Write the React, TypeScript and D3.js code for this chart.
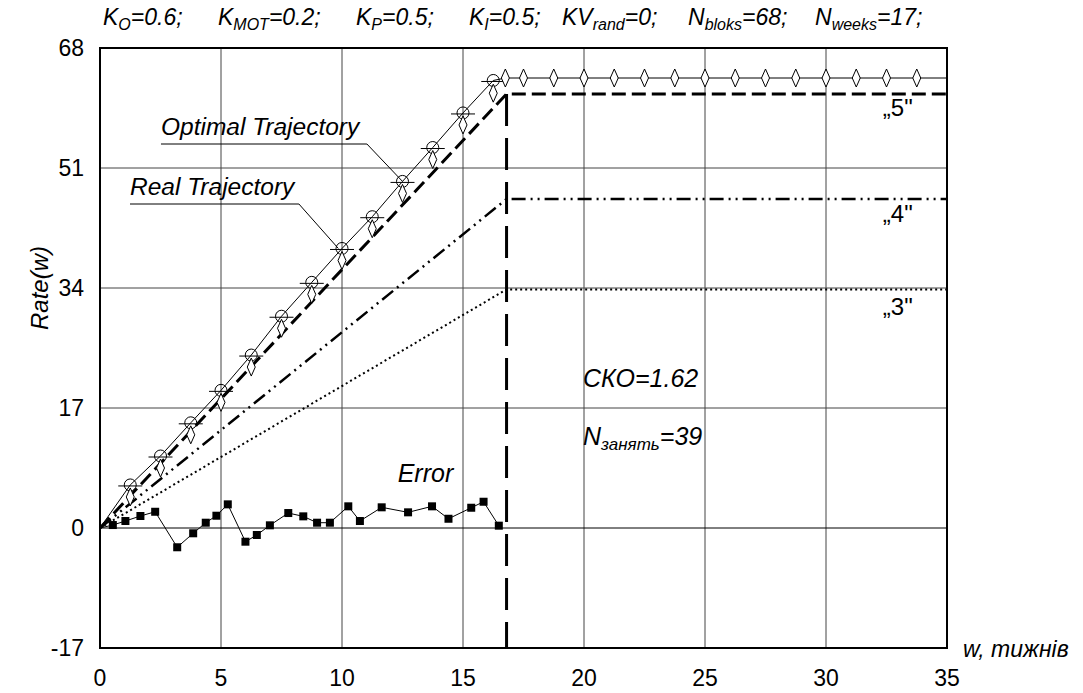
import React from 'react';
import { scaleLinear, line } from 'd3';

// axis ticks
const xTicks = [0, 5, 10, 15, 20, 25, 30, 35];
const yTicks = [-17, 0, 17, 34, 51, 68];

// optimal trajectory (circles) and real trajectory (diamonds) on the ramp
const rampWeeks = [1.25, 2.5, 3.75, 5, 6.25, 7.5, 8.75, 10, 11.25, 12.5, 13.75, 15, 16.25];
const optimalVals = [6.1, 10.2, 14.9, 19.5, 24.5, 30.0, 34.8, 39.6, 44.1, 49.1, 53.9, 58.8, 63.4];
const realVals = [4.4, 8.5, 13.2, 17.8, 22.8, 28.3, 33.1, 37.9, 42.4, 47.4, 52.2, 57.1, 61.6];

// real trajectory after the end of the ramp
const flatWeeks = [16.75, 17.5, 18.75, 20, 21.25, 22.5, 23.75, 25, 26.25, 27.5, 28.75, 30, 31.25, 32.5, 33.75];
const flatLevel = 63.75;

// scenario lines "3", "4", "5"
const scenarioWeeks = [0, 16.8, 35];
const scenario5 = [0, 61.5, 61.5];
const scenario4 = [0, 46.6, 46.6];
const scenario3 = [0, 33.8, 33.8];
const endWeek = 16.8;

// error series
const errorWeeks = [0, 0.53, 1.05, 1.67, 2.28, 3.19, 3.85, 4.37, 4.81, 5.28, 6.01, 6.48, 7.02, 7.78, 8.4, 8.97, 9.5, 10.26, 10.74, 11.64, 12.73, 13.72, 14.4, 15.34, 15.85, 16.48];
const errorVals = [0, 0.42, 0.99, 1.7, 2.3, -2.73, -0.75, 0.75, 1.74, 3.35, -1.94, -0.99, 0.38, 2.12, 1.65, 0.75, 0.75, 3.07, 0.99, 2.93, 2.22, 3.07, 1.31, 2.87, 3.72, 0.33];

const FONT = 'Arial, "Liberation Sans", sans-serif';

type P = [number, number];

export default function App() {
  const width = 1083;
  const height = 693;
  const x = scaleLinear().domain([0, 35]).range([100, 947]);
  const y = scaleLinear().domain([-17, 68]).range([648, 48]);
  const path = line<P>().x((d) => x(d[0])).y((d) => y(d[1]));

  const optimalPts: P[] = [[0, 0], ...rampWeeks.map((w, i) => [w, optimalVals[i]] as P), [flatWeeks[0], flatLevel], [35, flatLevel]];
  const s5: P[] = scenarioWeeks.map((w, i) => [w, scenario5[i]]);
  const s4: P[] = scenarioWeeks.map((w, i) => [w, scenario4[i]]);
  const s3: P[] = scenarioWeeks.map((w, i) => [w, scenario3[i]]);
  const errPts: P[] = errorWeeks.map((w, i) => [w, errorVals[i]]);
  const diamonds: P[] = [...rampWeeks.map((w, i) => [w, realVals[i]] as P), ...flatWeeks.map((w) => [w, flatLevel] as P)];

  const diamond = (cx: number, cy: number) =>
    `M${cx},${cy - 9}L${cx + 4},${cy}L${cx},${cy + 9}L${cx - 4},${cy}Z`;

  const italic = { fontFamily: FONT, fontStyle: 'italic' as const };

  // title segments: x, main text, subscript, rest
  const title: [number, string, string, string][] = [
    [103, 'K', 'O', '=0.6;'],
    [218, 'K', 'MOT', '=0.2;'],
    [356, 'K', 'P', '=0.5;'],
    [469, 'K', 'I', '=0.5;'],
    [562, 'KV', 'rand', '=0;'],
    [688, 'N', 'bloks', '=68;'],
    [815, 'N', 'weeks', '=17;'],
  ];

  return (
    <svg width={width} height={height} style={{ position: 'absolute', left: 0, top: 0, background: '#fff' }}>
      <rect x={0} y={0} width={width} height={height} fill="#fff" />

      {/* grid */}
      {xTicks.slice(1, -1).map((t) => (
        <line key={'gx' + t} x1={x(t)} x2={x(t)} y1={y(68)} y2={y(-17)} stroke="#444" strokeWidth={1} />
      ))}
      {yTicks.slice(1, -1).map((t) => (
        <line key={'gy' + t} x1={x(0)} x2={x(35)} y1={y(t)} y2={y(t)} stroke={t === 0 ? '#000' : '#444'} strokeWidth={1} />
      ))}

      {/* scenario lines */}
      <path d={path(s3) || ''} fill="none" stroke="#000" strokeWidth={2} strokeDasharray="2,3" />
      <path d={path(s4) || ''} fill="none" stroke="#000" strokeWidth={2.5} strokeDasharray="14,5,2,5,2,5" />
      <path d={path(s5) || ''} fill="none" stroke="#000" strokeWidth={3} strokeDasharray="14,6" />
      <line x1={x(endWeek)} x2={x(endWeek)} y1={y(scenario5[1])} y2={y(-17)} stroke="#000" strokeWidth={3} strokeDasharray="32,12" />

      {/* optimal trajectory */}
      <path d={path(optimalPts) || ''} fill="none" stroke="#000" strokeWidth={1} />
      {rampWeeks.map((w, i) => (
        <g key={'c' + i}>
          <circle cx={x(w)} cy={y(optimalVals[i])} r={6} fill="none" stroke="#000" strokeWidth={1} />
          <line x1={x(w) - 12} x2={x(w) + 12} y1={y(optimalVals[i]) + 1} y2={y(optimalVals[i]) + 1} stroke="#000" strokeWidth={1} />
        </g>
      ))}
      {diamonds.map((d, i) => (
        <path key={'d' + i} d={diamond(x(d[0]), y(d[1]))} fill="#fff" stroke="#000" strokeWidth={1} />
      ))}

      {/* error */}
      <path d={path(errPts) || ''} fill="none" stroke="#000" strokeWidth={1} />
      {errPts.slice(1).map((d, i) => (
        <rect key={'e' + i} x={x(d[0]) - 4} y={y(d[1]) - 4} width={8} height={8} fill="#000" />
      ))}

      {/* frame */}
      <rect x={x(0)} y={y(68)} width={x(35) - x(0)} height={y(-17) - y(68)} fill="none" stroke="#000" strokeWidth={2} />

      {/* ticks */}
      {xTicks.map((t) => (
        <text key={'tx' + t} x={x(t)} y={686} textAnchor="middle" fontFamily={FONT} fontSize={23}>{t}</text>
      ))}
      {yTicks.map((t) => (
        <text key={'ty' + t} x={84} y={y(t) + 8} textAnchor="end" fontFamily={FONT} fontSize={23}>{t}</text>
      ))}
      <text x={963} y={657} {...italic} fontSize={23}>w, тижнів</text>
      <text transform={`translate(48,${y(34)}) rotate(-90)`} textAnchor="middle" {...italic} fontSize={24}>Rate(w)</text>

      {/* title */}
      {title.map(([tx, a, sub, rest]) => (
        <text key={'t' + tx} x={tx} y={25} {...italic} fontSize={23}>
          {a}
          <tspan fontSize={16} dy={5}>{sub}</tspan>
          <tspan dy={-5}>{rest}</tspan>
        </text>
      ))}

      {/* annotations */}
      <text x={x(2.52)} y={y(55.7)} {...italic} fontSize={24.5}>Optimal Trajectory</text>
      <path d={path([[2.52, 54.4], [11.03, 54.4], [12.5, 49.1]]) || ''} fill="none" stroke="#000" strokeWidth={1} />
      <text x={x(1.24)} y={y(47.2)} {...italic} fontSize={24.5}>Real Trajectory</text>
      <path d={path([[1.24, 45.9], [8.22, 45.9], [9.85, 39.6]]) || ''} fill="none" stroke="#000" strokeWidth={1} />
      <text x={x(12.3)} y={y(6.5)} {...italic} fontSize={25}>Error</text>
      <text x={x(19.96)} y={y(20.0)} {...italic} fontSize={25}>СКО=1.62</text>
      <text x={x(19.96)} y={y(11.76)} {...italic} fontSize={25}>
        N<tspan fontSize={17} dy={5}>занять</tspan><tspan dy={-5}>=39</tspan>
      </text>
      <text x={x(32.35)} y={y(58.4)} fontFamily={FONT} fontSize={24}>„5"</text>
      <text x={x(32.35)} y={y(43.35)} fontFamily={FONT} fontSize={24}>„4"</text>
      <text x={x(32.35)} y={y(30.2)} fontFamily={FONT} fontSize={24}>„3"</text>
    </svg>
  );
}
